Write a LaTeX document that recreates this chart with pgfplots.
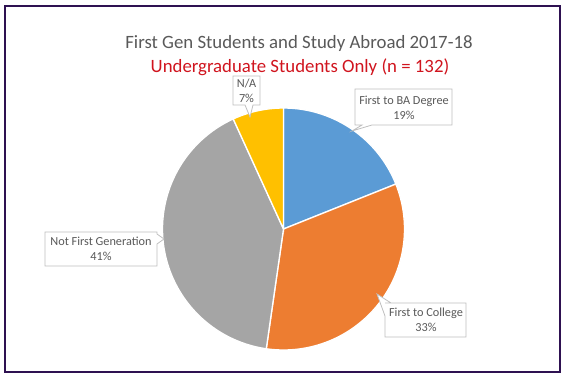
\documentclass[border=0pt]{standalone}
\usepackage{pgfplots}
\pgfplotsset{compat=1.18}
\usepackage{pgfplotstable}
\usepackage{fontspec}
\setmainfont{Carlito}
\definecolor{sblue}{HTML}{5B9BD5}
\definecolor{sorange}{HTML}{ED7D31}
\definecolor{sgray}{HTML}{A5A5A5}
\definecolor{syellow}{HTML}{FFC000}
\definecolor{framec}{HTML}{2E1151}
\definecolor{titlegray}{HTML}{595959}
\definecolor{subred}{HTML}{D0141E}
\definecolor{boxline}{HTML}{BFBFBF}
\definecolor{labeltext}{HTML}{595959}

% counts per category (n = 132)
\pgfplotstableread{
cat count
BA 25
College 44
NotFirst 54
NA 9
}\piedata

\begin{document}
\begin{tikzpicture}
\pgfplotstablegetelem{0}{count}\of\piedata \let\cA\pgfplotsretval
\pgfplotstablegetelem{1}{count}\of\piedata \let\cB\pgfplotsretval
\pgfplotstablegetelem{2}{count}\of\piedata \let\cC\pgfplotsretval
\pgfplotstablegetelem{3}{count}\of\piedata \let\cD\pgfplotsretval
\pgfmathsetmacro\tot{\cA+\cB+\cC+\cD}
\pgfmathsetmacro\aZero{90}
\pgfmathsetmacro\aOne{90-360*(\cA/\tot)}
\pgfmathsetmacro\aTwo{\aOne-360*(\cB/\tot)}
\pgfmathsetmacro\aThree{\aTwo-360*(\cC/\tot)}
\pgfmathsetmacro\aFour{\aThree-360*(\cD/\tot)}
\def\cx{283.5}
\def\cy{229}
\def\rr{121}
\begin{axis}[
  scale only axis, width=423.75pt, height=284.25pt,
  xmin=0, xmax=565, ymin=0, ymax=379, y dir=reverse,
  hide axis, clip=false,
]
\path (axis cs:0,0) rectangle (axis cs:565,379);
\draw[framec, line width=1.7pt] (axis cs:5,6) rectangle (axis cs:560,372);

\addplot[draw=white, line width=1pt, fill=sblue, domain=\aOne:\aZero, samples=80]
  ({\cx+\rr*cos(x)}, {\cy-\rr*sin(x)}) -- (axis cs:\cx,\cy) -- cycle;
\addplot[draw=white, line width=1pt, fill=sorange, domain=\aTwo:\aOne, samples=100]
  ({\cx+\rr*cos(x)}, {\cy-\rr*sin(x)}) -- (axis cs:\cx,\cy) -- cycle;
\addplot[draw=white, line width=1pt, fill=sgray, domain=\aThree:\aTwo, samples=120]
  ({\cx+\rr*cos(x)}, {\cy-\rr*sin(x)}) -- (axis cs:\cx,\cy) -- cycle;
\addplot[draw=white, line width=1pt, fill=syellow, domain=\aFour:\aThree, samples=30]
  ({\cx+\rr*cos(x)}, {\cy-\rr*sin(x)}) -- (axis cs:\cx,\cy) -- cycle;

% titles
\node[text=titlegray, font=\fontsize{14.1}{16}\selectfont] at (axis cs:299,43) {First Gen Students and Study Abroad 2017-18};
\node[text=subred, font=\fontsize{14.1}{16}\selectfont] at (axis cs:300,67) {Undergraduate Students Only (n = 132)};

% callouts
\tikzset{lt/.style={text=labeltext, font=\fontsize{9.2}{11}\selectfont, align=center}}
% N/A
\draw[boxline, line width=0.6pt, fill=white] (axis cs:233,76) -- (axis cs:260,76) -- (axis cs:260,105) -- (axis cs:253,105) -- (axis cs:250,117) -- (axis cs:245,105) -- (axis cs:233,105) -- cycle;
\node[lt] at (axis cs:246.5,90.5) {N/A\\7\%};
% First to BA Degree
\draw[boxline, line width=0.6pt, fill=white] (axis cs:355,89) -- (axis cs:452,89) -- (axis cs:452,125) -- (axis cs:372,125) -- (axis cs:352,131) -- (axis cs:362,125) -- (axis cs:355,125) -- cycle;
\node[lt] at (axis cs:404,107.5) {First to BA Degree\\19\%};
% Not First Generation
\draw[boxline, line width=0.6pt, fill=white] (axis cs:45,232) -- (axis cs:157,232) -- (axis cs:157,234) -- (axis cs:164,239) -- (axis cs:157,244) -- (axis cs:157,266) -- (axis cs:45,266) -- cycle;
\node[lt] at (axis cs:101,249) {Not First Generation\\41\%};
% First to College
\draw[boxline, line width=0.6pt, fill=white] (axis cs:385,303) -- (axis cs:466,303) -- (axis cs:466,337) -- (axis cs:385,337) -- (axis cs:385,316) -- (axis cs:377,294) -- (axis cs:391,303) -- cycle;
\node[lt] at (axis cs:426,320) {First to College\\33\%};
\end{axis}
\end{tikzpicture}
\end{document}
